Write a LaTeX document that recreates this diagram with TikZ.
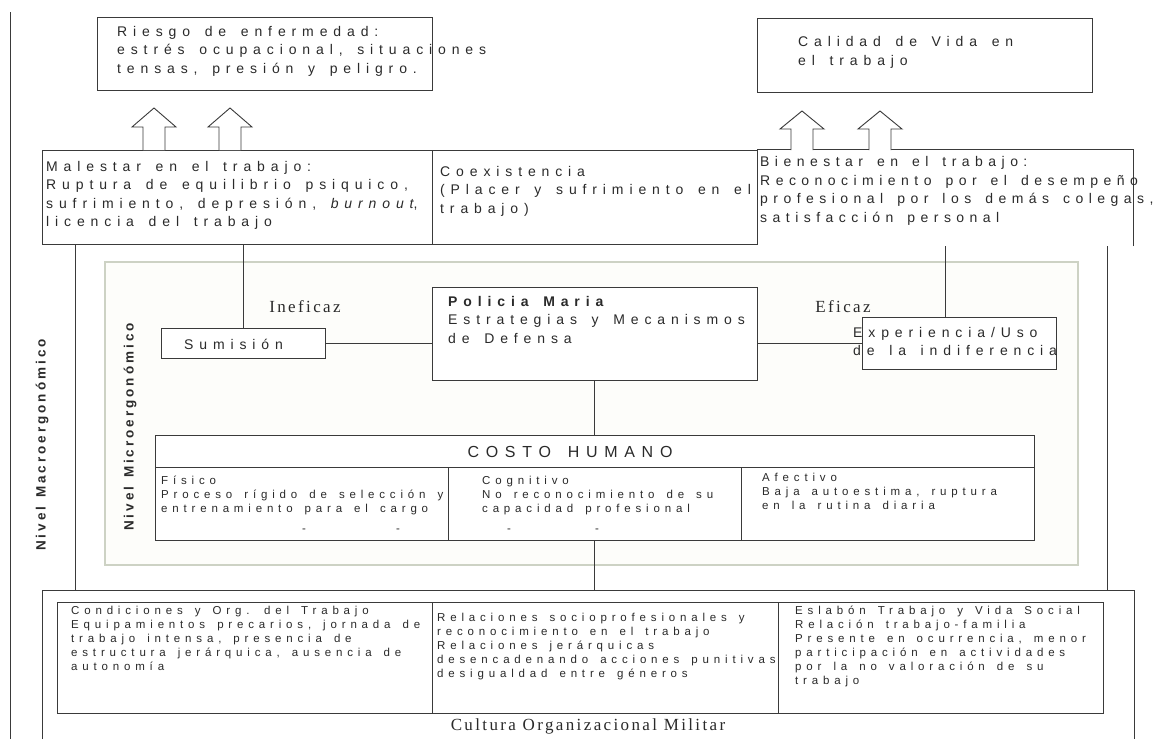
\documentclass[tikz,border=0pt]{standalone}
\usepackage{fontspec}
\setmainfont{Liberation Sans}
\newfontfamily\af[LetterSpace=42,WordSpace=1.5]{Liberation Sans}
\newfontfamily\bienfont[LetterSpace=39,WordSpace=1.5]{Liberation Sans}
\newfontfamily\vf[LetterSpace=22,WordSpace=1.3]{Liberation Sans}
\newfontfamily\tf[LetterSpace=14]{Liberation Serif}
\usetikzlibrary{fit}
\definecolor{ln}{HTML}{3A3A3A}
\definecolor{tx}{HTML}{2A2A2A}
\definecolor{microln}{HTML}{CDD2C4}
\definecolor{microfill}{HTML}{FDFDFA}
\begin{document}
\begin{tikzpicture}[x=1pt,y=-1pt,
  lnst/.style={draw=ln, line width=0.9pt},
  boxst/.style={lnst, inner sep=0pt},
  openbox/.style={inner sep=0pt},
  big/.style={inner sep=0pt, anchor=north west, align=left, text=tx, font=\af\fontsize{14}{18.5}\selectfont, execute at begin node={\rule{0pt}{11pt}}},
  small/.style={inner sep=0pt, anchor=north west, align=left, text=tx, font=\af\fontsize{11.5}{14}\selectfont, execute at begin node={\rule{0pt}{9pt}}},
  serif/.style={inner sep=0pt, text=tx, font=\tf\fontsize{17}{20}\selectfont},
  vert/.style={inner sep=0pt, rotate=90, text=tx, font=\vf\bfseries\fontsize{13.5}{15}\selectfont},
  blockarrow/.style={draw=ln, line width=0.9pt, fill=white, line join=miter},
]
\useasboundingbox (0,0) rectangle (1164,739);
\fill[white] (0,0) rectangle (1164,739);

% far left line
\coordinate (ltop) at (10,12);
\coordinate (lbot) at (10,739);
\draw[lnst] (ltop) -- (lbot);

% top boxes
\node[boxst, fit={(97,17) (432,90)}] (riesgo) {};
\node[big] (riesgoT) at (117,26) {Riesgo de enfermedad:\\estrés ocupacional, situaciones\\tensas, presión y peligro.};
\node[boxst, fit={(757,18) (1092,92)}] (calidad) {};
\node[big] (calidadT) at (798,36.5) {Calidad de Vida en\\el trabajo};

% middle row
\node[boxst, fit={(42,150) (432,244)}] (malestar) {};
\node[big] (malestarT) at (46,161) {Malestar en el trabajo:\\Ruptura de equilibrio psiquico,\\sufrimiento, depresión, \textit{burnout},\\licencia del trabajo};
\node[boxst, fit={(432,150) (757,244)}] (coex) {};
\node[big] (coexT) at (440,166) {Coexistencia\\(Placer y sufrimiento en el\\trabajo)};
\node[openbox, fit={(757,150) (1133,246)}] (bien) {};
\draw[lnst] (bien.south east) -- (bien.north east) -- (bien.north west);
\node[big, font=\bienfont\fontsize{14}{18.5}\selectfont] (bienT) at (760,156.5) {Bienestar en el trabajo:\\Reconocimiento por el desempeño\\profesional por los demás colegas,\\satisfacción personal};

% open block arrows
\foreach \cx/\nm in {154/a1, 230/a2} {
  \coordinate (\nm) at (\cx,150);
  \draw[blockarrow] (\nm) ++(-11,0) -- ++(0,-23) -- ++(-11,0) -- ++(22,-19) -- ++(22,19) -- ++(-11,0) -- ++(0,23);
}
\foreach \cx/\nm in {802/a3, 880/a4} {
  \coordinate (\nm) at (\cx,150);
  \draw[blockarrow] (\nm) ++(-11,0) -- ++(0,-21) -- ++(-11,0) -- ++(22,-18) -- ++(22,18) -- ++(-11,0) -- ++(0,21);
}

% bottom outer box
\node[openbox, fit={(43,591) (1134,739)}] (cultbox) {};
\draw[lnst] (cultbox.south west) -- (cultbox.north west) -- (cultbox.north east) -- (cultbox.south east);

% macro lines
\coordinate (mL) at (75,0);
\coordinate (mR) at (1107,0);
\draw[lnst] (mL |- malestar.south) -- (mL |- cultbox.north);
\draw[lnst] (mR |- bien.south) -- (mR |- cultbox.north);

% micro box
\node[draw=microln, fill=microfill, line width=2pt, inner sep=0pt, fit={(105,262) (1078,565)}] (micro) {};

% center nodes
\node[boxst, fill=white, fit={(432,287) (757,380)}] (policia) {};
\node[big] (policiaT) at (448,296) {\textbf{Policia Maria}\\Estrategias y Mecanismos\\de Defensa};
\node[boxst, fill=white, fit={(161,328) (325,358)}] (sumision) {};
\node[big] (sumisionT) at (184,338) {Sumisión};
\node[boxst, fill=white, fit={(862,317) (1056,369)}] (exper) {};
\node[big, font=\af\fontsize{14}{18}\selectfont] (experT) at (853,327.5) {Experiencia/Uso\\de la indiferencia};
\node[serif] (inef) at (305,307) {Ineficaz};
\node[serif] (efic) at (843,307) {Eficaz};

\coordinate (expUp) at (945,0);
\draw[lnst] (sumision.north) -- (sumision.north |- malestar.south);
\draw[lnst] (sumision.east) -- (sumision.east -| policia.west);
\draw[lnst] (exper.west -| policia.east) -- (exper.west);
\draw[lnst] (expUp |- exper.north) -- (expUp |- bien.south);

% costo humano
\node[boxst, fill=white, fit={(155,435) (1034,540)}] (costo) {};
\coordinate (hL) at (155,467);
\coordinate (hR) at (1034,467);
\draw[lnst] (hL) -- (hR);
\coordinate (d1) at (448,467);
\coordinate (d2) at (741,467);
\draw[lnst] (d1) -- (d1 |- costo.south);
\draw[lnst] (d2) -- (d2 |- costo.south);
\node[inner sep=0pt, text=tx, font=\af\fontsize{16}{18}\selectfont] (costoT) at (570,452) {COSTO HUMANO};
\node[small] (fisT) at (161,476) {Físico\\Proceso rígido de selección y\\entrenamiento para el cargo};
\node[small] (cogT) at (482,476) {Cognitivo\\No reconocimiento de su\\capacidad profesional};
\node[small] (afeT) at (762,473) {Afectivo\\Baja autoestima, ruptura\\en la rutina diaria};
\foreach \dx/\nm in {304/m1, 398/m2, 509/m3, 597/m4}
  \node[inner sep=0pt, text=tx, font=\af\fontsize{11.5}{14}\selectfont] (\nm) at (\dx,531) {-};

\draw[lnst] (policia.south) -- (policia.south |- costo.north);
\draw[lnst] (costo.south) -- (costo.south |- cultbox.north);

% bottom inner boxes
\node[boxst, fit={(57,602) (432,713)}] (b1) {};
\node[boxst, fit={(432,602) (778,713)}] (b2) {};
\node[boxst, fit={(778,602) (1103,713)}] (b3) {};
\node[small] (b1T) at (71,606) {Condiciones y Org. del Trabajo\\Equipamientos precarios, jornada de\\trabajo intensa, presencia de\\estructura jerárquica, ausencia de\\autonomía};
\node[small] (b2T) at (437,613) {Relaciones socioprofesionales y\\reconocimiento en el trabajo\\Relaciones jerárquicas\\desencadenando acciones punitivas\\desigualdad entre géneros};
\node[small] (b3T) at (795,606) {Eslabón Trabajo y Vida Social\\Relación trabajo-familia\\Presente en ocurrencia, menor\\participación en actividades\\por la no valoración de su\\trabajo};
\node[serif] (cultT) at (588,726) {Cultura Organizacional Militar};

% vertical labels
\node[vert] (macroT) at (42,445) {Nivel Macroergonómico};
\node[vert] (microT) at (130,427) {Nivel Microergonómico};
\end{tikzpicture}
\end{document}
